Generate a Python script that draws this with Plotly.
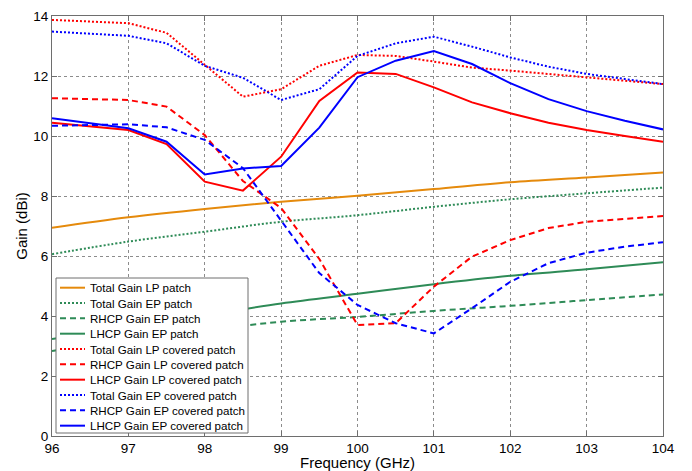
import plotly.graph_objects as go

freq_cov = [96, 97, 97.5, 98, 98.5, 99, 99.5, 100, 100.5, 101, 101.5, 102, 102.5, 103, 103.5, 104]
freq_patch = [96, 97, 98, 99, 100, 101, 102, 103, 104]

total_lp_patch = [6.94, 7.29, 7.57, 7.81, 8.01, 8.23, 8.46, 8.62, 8.78]
total_ep_patch = [6.06, 6.48, 6.81, 7.14, 7.36, 7.64, 7.89, 8.09, 8.28]
rhcp_ep_patch = [2.83, 3.22, 3.52, 3.81, 3.97, 4.17, 4.34, 4.53, 4.72]
lhcp_ep_patch = [3.23, 3.62, 4.02, 4.42, 4.74, 5.06, 5.34, 5.56, 5.79]

total_lp_cov = [13.87, 13.76, 13.44, 12.37, 11.31, 11.56, 12.34, 12.70, 12.67, 12.48, 12.28, 12.18, 12.07, 11.96, 11.85, 11.73]
rhcp_lp_cov = [11.26, 11.20, 10.98, 10.03, 8.50, 7.60, 5.90, 3.70, 3.76, 4.98, 5.98, 6.53, 6.93, 7.14, 7.24, 7.33]
lhcp_lp_cov = [10.44, 10.20, 9.73, 8.48, 8.18, 9.31, 11.17, 12.12, 12.07, 11.62, 11.12, 10.76, 10.44, 10.20, 10.00, 9.81]
total_ep_cov = [13.48, 13.34, 13.09, 12.34, 11.94, 11.20, 11.56, 12.67, 13.09, 13.31, 12.98, 12.62, 12.31, 12.07, 11.90, 11.73]
rhcp_ep_cov = [10.34, 10.39, 10.29, 9.87, 8.93, 7.20, 5.43, 4.37, 3.76, 3.42, 4.26, 5.14, 5.76, 6.11, 6.31, 6.46]
lhcp_ep_cov = [10.59, 10.26, 9.81, 8.72, 8.92, 9.00, 10.28, 11.96, 12.51, 12.83, 12.40, 11.76, 11.23, 10.83, 10.51, 10.22]

x_ticks = [96, 97, 98, 99, 100, 101, 102, 103, 104]
y_ticks = [0, 2, 4, 6, 8, 10, 12, 14]

ORANGE = "#E58A0C"
GREEN = "#2E8B57"
RED = "#FF0000"
BLUE = "#0000FF"
DASHES = {"solid": "solid", "dot": "2px,2px", "dash": "6px,4px"}

series = [
    ("Total Gain LP patch", freq_patch, total_lp_patch, ORANGE, "solid"),
    ("Total Gain EP patch", freq_patch, total_ep_patch, GREEN, "dot"),
    ("RHCP Gain EP patch", freq_patch, rhcp_ep_patch, GREEN, "dash"),
    ("LHCP Gain EP patch", freq_patch, lhcp_ep_patch, GREEN, "solid"),
    ("Total Gain LP covered patch", freq_cov, total_lp_cov, RED, "dot"),
    ("RHCP Gain LP covered patch", freq_cov, rhcp_lp_cov, RED, "dash"),
    ("LHCP Gain LP covered patch", freq_cov, lhcp_lp_cov, RED, "solid"),
    ("Total Gain EP covered patch", freq_cov, total_ep_cov, BLUE, "dot"),
    ("RHCP Gain EP covered patch", freq_cov, rhcp_ep_cov, BLUE, "dash"),
    ("LHCP Gain EP covered patch", freq_cov, lhcp_ep_cov, BLUE, "solid"),
]

FONT = "Liberation Sans, Arial"
OFF = 8  # default page body margin
PAGE_W, PAGE_H = 692, 471
W, H = PAGE_W - OFF, PAGE_H - OFF
# plot area in page pixels: x 52..663, y 16..436
ML, MT = 52 - OFF, 16 - OFF
MR, MB = PAGE_W - 663, PAGE_H - 436
PW, PH = W - ML - MR, H - MT - MB


def px_x(px):
    return (px - OFF - ML) / PW


def px_y(py):
    return (H - MB - (py - OFF)) / PH


fig = go.Figure()
for name, xs, ys, color, dash in series:
    smooth = xs is freq_patch
    fig.add_trace(go.Scatter(
        x=xs, y=ys, name=name, mode="lines", showlegend=False,
        line=dict(color=color, dash=DASHES[dash], width=2,
                  shape="spline" if smooth else "linear"),
    ))

# Custom legend (MATLAB-like compact spacing), page pixel coordinates
LEG_L, LEG_R, LEG_T, LEG_B = 56, 248, 278, 433
ENTRY0, STEP = 287.7, 15.33
SAMPLE_X0, SAMPLE_X1, TEXT_X = 60, 85, 88

shapes = [dict(type="rect", xref="paper", yref="paper", layer="above",
               x0=px_x(LEG_L), x1=px_x(LEG_R), y0=px_y(LEG_B), y1=px_y(LEG_T),
               fillcolor="white", line=dict(color="#6e6e6e", width=1))]
annotations = []
for i, (name, xs, ys, color, dash) in enumerate(series):
    yy = px_y(ENTRY0 + STEP * i)
    shapes.append(dict(type="line", xref="paper", yref="paper", layer="above",
                       x0=px_x(SAMPLE_X0), x1=px_x(SAMPLE_X1), y0=yy, y1=yy,
                       line=dict(color=color, dash=DASHES[dash], width=2)))
    annotations.append(dict(xref="paper", yref="paper", x=px_x(TEXT_X), y=yy,
                            xanchor="left", yanchor="middle", showarrow=False,
                            text=name, font=dict(family=FONT, size=11.6, color="#000")))

axis_common = dict(
    showgrid=True, gridcolor="#8c8c8c", griddash="dot", gridwidth=1,
    showline=True, linecolor="#6e6e6e", linewidth=1, mirror="ticks",
    ticks="inside", ticklen=5, tickcolor="#6e6e6e",
    zeroline=False, automargin=False, ticklabeloverflow="allow",
    tickfont=dict(family=FONT, size=13.5, color="#000"),
    title_font=dict(family=FONT, size=15, color="#000"),
)

fig.update_xaxes(range=[96, 104], tickvals=x_ticks, title_text="Frequency (GHz)",
                 title_standoff=0, **axis_common)
fig.update_yaxes(range=[0, 14], tickvals=y_ticks, title_text="Gain (dBi)",
                 title_standoff=2, **axis_common)

fig.update_layout(
    width=W, height=H,
    margin=dict(l=ML, r=MR, t=MT, b=MB),
    paper_bgcolor="white", plot_bgcolor="white",
    font=dict(family=FONT, color="#000"),
    showlegend=False,
    shapes=shapes, annotations=annotations,
)

fig.write_html("out.html")
